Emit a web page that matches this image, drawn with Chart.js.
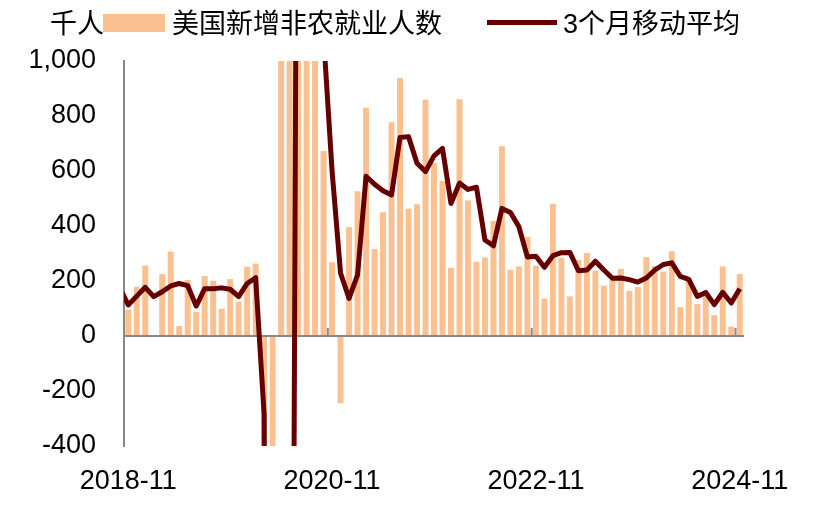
<!DOCTYPE html>
<html><head><meta charset="utf-8">
<script src="https://cdn.jsdelivr.net/npm/chart.js@4.4.1/dist/chart.umd.min.js"></script>
<style>
html,body{margin:0;padding:0;background:#fff;}
#wrap{position:relative;width:814px;height:509px;overflow:hidden;}
canvas{position:absolute;left:0;top:0;}
.lg{position:absolute;font-family:"Liberation Sans","Noto Sans CJK SC",sans-serif;font-size:27px;line-height:30px;color:#000;white-space:nowrap;}
.sw{position:absolute;}
</style></head><body>
<div id="wrap">
<canvas id="c" width="814" height="509"></canvas>
<div class="lg" id="unit" style="left:50px;top:9px"></div>
<div class="sw" id="sw1" style="left:103px;top:14px;width:62px;height:18px;"></div>
<div class="lg" id="t1" style="left:172px;top:9px"></div>
<div class="sw" id="sw2" style="left:487px;top:20px;width:70px;height:5px;"></div>
<div class="lg" id="t2" style="left:563px;top:9px"></div>
</div>
<script>
// ---- data ----
const unitLabel = '千人';
const seriesNames = ['美国新增非农就业人数', '3个月移动平均'];
const months = [
'2018-10','2018-11','2018-12',
'2019-01','2019-02','2019-03','2019-04','2019-05','2019-06','2019-07','2019-08','2019-09','2019-10','2019-11','2019-12',
'2020-01','2020-02','2020-03','2020-04','2020-05','2020-06','2020-07','2020-08','2020-09','2020-10','2020-11','2020-12',
'2021-01','2021-02','2021-03','2021-04','2021-05','2021-06','2021-07','2021-08','2021-09','2021-10','2021-11','2021-12',
'2022-01','2022-02','2022-03','2022-04','2022-05','2022-06','2022-07','2022-08','2022-09','2022-10','2022-11','2022-12',
'2023-01','2023-02','2023-03','2023-04','2023-05','2023-06','2023-07','2023-08','2023-09','2023-10','2023-11','2023-12',
'2024-01','2024-02','2024-03','2024-04','2024-05','2024-06','2024-07','2024-08','2024-09','2024-10','2024-11'
];
const payrolls = [
null, 95, 179,
256, 4, 225, 307, 36, 204, 87, 218, 201, 99, 207, 125,
252, 263, -1373, -20477, 2793, 4782, 1722, 1495, 1100, 673, 268, -245,
396, 526, 830, 316, 450, 777, 938, 463, 479, 859, 629, 564,
248, 861, 493, 270, 285, 418, 690, 241, 253, 360, 256, 136,
481, 285, 144, 276, 302, 238, 183, 204, 244, 164, 178, 287,
255, 234, 308, 105, 210, 116, 150, 76, 253, 34, 225
];
const movingAvg = [
175, 113, 145,
177, 143, 161, 182, 191, 183, 109, 172, 172, 175, 170, 143,
191, 212, -286, -7196, -6352, -4300, 3099, 2666, 1439, 1089, 600, 228,
137, 222, 581, 552, 528, 513, 722, 725, 628, 598, 655, 682,
482, 556, 533, 541, 349, 328, 464, 449, 397, 287, 290, 250,
292, 303, 304, 237, 240, 272, 240, 210, 211, 205, 196, 211,
240, 260, 266, 217, 206, 144, 158, 114, 159, 120, 172
];
const firstShown = '2018-11';
const xTickLabels = ['2018-11','2020-11','2022-11','2024-11'];
const yMin = -400, yMax = 1000, yStep = 200;

// ---- style ----
const BAR = '#FAC090';
const LINE = '#660000';
const AXIS = '#898989';
const FONT = '"Liberation Sans", Arial, sans-serif';

document.getElementById('unit').textContent = unitLabel;
document.getElementById('t1').textContent = seriesNames[0];
document.getElementById('t2').textContent = seriesNames[1];
document.getElementById('sw1').style.background = BAR;
document.getElementById('sw2').style.background = LINE;

const axisDeco = {
  id: 'axisDeco',
  afterDatasetDraw(chart, args) {
    if (args.index !== 0) return;
    const {ctx, chartArea: a, scales: {x, y}} = chart;
    const y0 = y.getPixelForValue(0);
    ctx.save();
    ctx.strokeStyle = AXIS;
    ctx.lineWidth = 2;
    ctx.beginPath();
    ctx.moveTo(a.left, y0);
    ctx.lineTo(a.right, y0);
    ctx.stroke();
    ctx.fillStyle = AXIS;
    const half = (x.getPixelForValue(2) - x.getPixelForValue(1)) / 2;
    x.ticks.forEach(t => {
      if (xTickLabels.includes(x.getLabelForValue(t.value))) {
        const px = x.getPixelForValue(t.value) - half;
        ctx.fillRect(px - 1, y0 - 8, 2, 8);
      }
    });
    ctx.restore();
  }
};

new Chart(document.getElementById('c'), {
  data: {
    labels: months,
    datasets: [
      {
        type: 'bar', label: seriesNames[0], data: payrolls,
        backgroundColor: BAR, borderWidth: 0,
        categoryPercentage: 1.0, barPercentage: 0.7,
        clip: 0, order: 1
      },
      {
        type: 'line', label: seriesNames[1], data: movingAvg,
        borderColor: LINE, backgroundColor: LINE, borderWidth: 5,
        pointRadius: 0, pointHoverRadius: 0, tension: 0,
        borderJoinStyle: 'round', borderCapStyle: 'butt',
        clip: 0, order: 0
      }
    ]
  },
  options: {
    responsive: false,
    animation: false,
    locale: 'en-US',
    layout: {padding: {left: 0, right: 70, top: 61, bottom: 0}},
    plugins: {legend: {display: false}, tooltip: {enabled: false}},
    scales: {
      x: {
        type: 'category', min: firstShown, offset: true,
        grid: {display: false},
        border: {display: false},
        ticks: {
          autoSkip: false, maxRotation: 0, minRotation: 0,
          padding: 11, color: '#000',
          font: {family: FONT, size: 27},
          callback(v) {
            const l = this.getLabelForValue(v);
            return xTickLabels.includes(l) ? l : '';
          }
        },
        afterFit(s) { s.height = 63; }
      },
      y: {
        min: yMin, max: yMax,
        grid: {display: false, drawTicks: false},
        border: {display: true, color: AXIS, width: 2},
        ticks: {
          stepSize: yStep, padding: 28, color: '#000',
          font: {family: FONT, size: 27}
        },
        afterFit(s) { s.width = 124; }
      }
    }
  },
  plugins: [axisDeco]
});
</script>
</body></html>
